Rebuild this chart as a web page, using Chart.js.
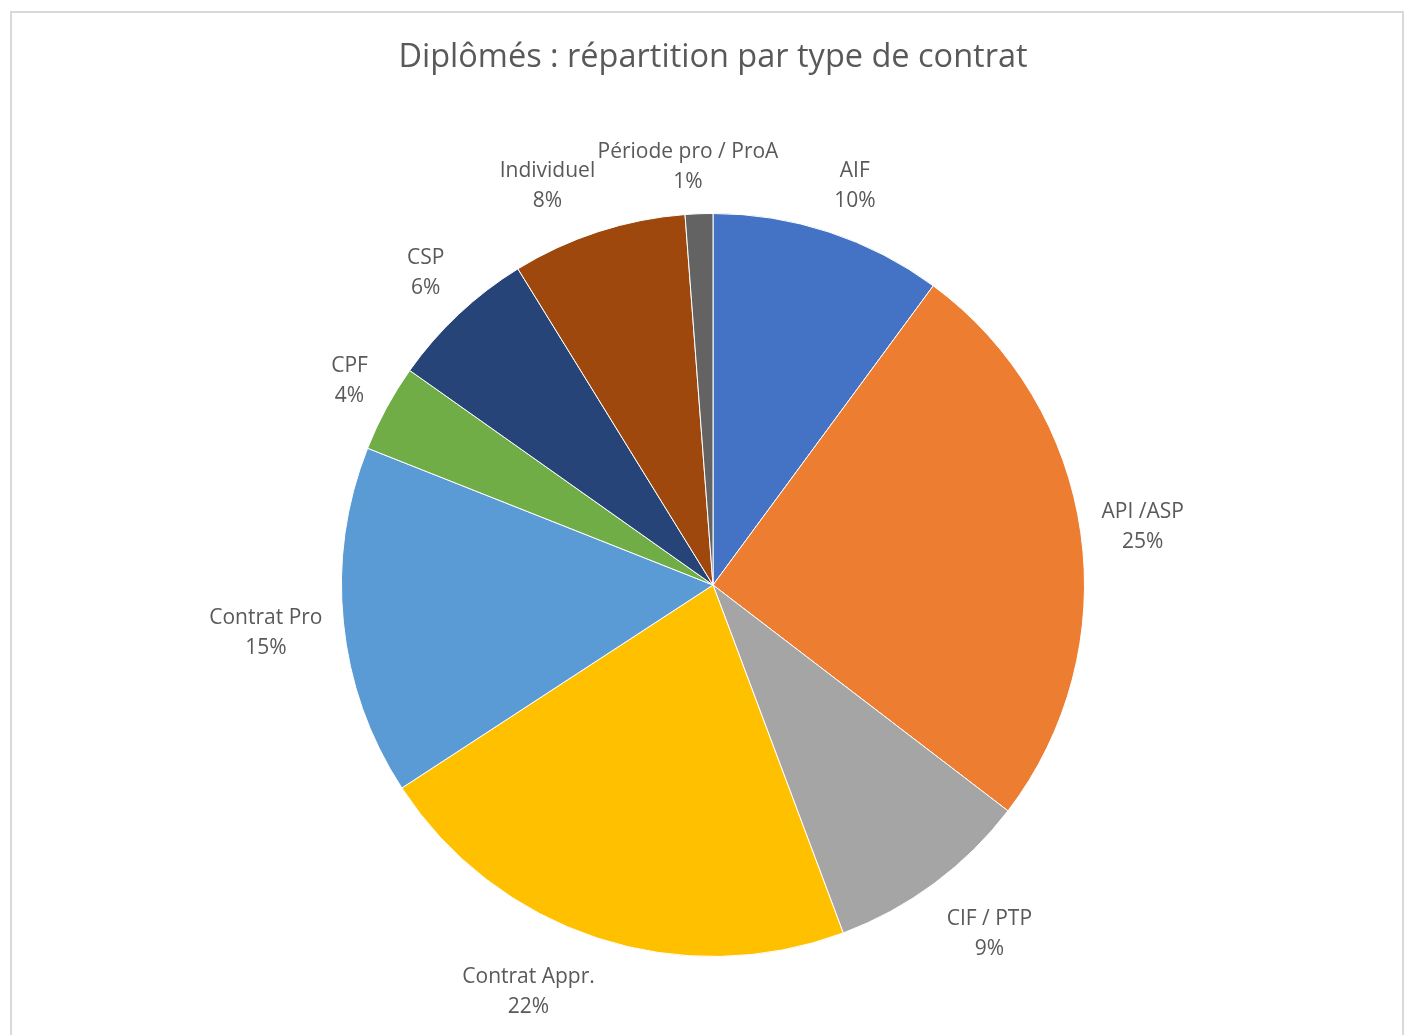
<!DOCTYPE html>
<html lang="fr">
<head>
    <meta charset="UTF-8">
    <title>Diplômés : répartition par type de contrat</title>
    <script src="https://cdn.jsdelivr.net/npm/chart.js"></script>
    <style>
        html, body {
            margin: 0;
            padding: 0;
            background: #ffffff;
            overflow: hidden;
        }
        .frame {
            position: absolute;
            left: 10px;
            top: 11px;
            width: 1394px;
            height: 1100px;
            border: 2px solid #d9d9d9;
            box-sizing: border-box;
        }
        .wrap {
            position: absolute;
            left: 0;
            top: 0;
            width: 1405px;
            height: 1035px;
        }
    </style>
</head>
<body>

<div class="frame"></div>
<div class="wrap">
    <canvas id="pieChart"></canvas>
</div>

<script>
    // data (shares, in %)
    const categories = ['AIF', 'API /ASP', 'CIF / PTP', 'Contrat Appr.', 'Contrat Pro', 'CPF', 'CSP', 'Individuel', 'Période pro / ProA'];
    const shares = [10.1, 25.3, 8.9, 21.5, 15.2, 3.8, 6.4, 7.6, 1.2];
    const colors = ['#4472C4', '#ED7D31', '#A5A5A5', '#FFC000', '#5B9BD5', '#70AD47', '#264478', '#9E480E', '#636363'];

    const titleText = 'Diplômés : répartition par type de contrat';
    const textColor = '#595959';
    const fontFamily = '"Open Sans", "Noto Sans", sans-serif';

    const clamp = v => Math.max(-1, Math.min(1, v));

    // title + outside labels, roughly like Excel's "best fit"
    const outsideLabels = {
        id: 'outsideLabels',
        afterDraw(chart) {
            const ctx = chart.ctx;
            const meta = chart.getDatasetMeta(0);
            const total = shares.reduce((a, b) => a + b, 0);

            ctx.save();
            ctx.fillStyle = textColor;
            ctx.textAlign = 'center';
            ctx.textBaseline = 'middle';

            ctx.font = '32.5px ' + fontFamily;
            ctx.fillText(titleText, 713, 58);

            ctx.font = '21px ' + fontFamily;
            const lineH = 30;
            meta.data.forEach((arc, i) => {
                const p = arc.getProps(['x', 'y', 'startAngle', 'endAngle', 'outerRadius'], true);
                const a = (p.startAngle + p.endAngle) / 2;
                const lines = [categories[i], Math.round(shares[i] / total * 100) + '%'];
                const w = Math.max(...lines.map(t => ctx.measureText(t).width));
                const h = lines.length * lineH;
                const r = p.outerRadius + 21;
                // push the box out so its side nearest the pie sits just outside the edge
                const cx = p.x + Math.cos(a) * r + clamp(3 * Math.cos(a)) * w / 2;
                const cy = p.y + Math.sin(a) * r + clamp(1.5 * Math.sin(a)) * h / 2 + 4;
                lines.forEach((t, k) => {
                    ctx.fillText(t, cx, cy - h / 2 + lineH / 2 + k * lineH);
                });
            });
            ctx.restore();
        }
    };

    const ctx1 = document.getElementById('pieChart').getContext('2d');
    const pieChart = new Chart(ctx1, {
        type: 'pie',
        data: {
            labels: categories,
            datasets: [{
                data: shares,
                backgroundColor: colors,
                borderColor: '#ffffff',
                borderWidth: 1
            }]
        },
        options: {
            responsive: true,
            maintainAspectRatio: false,
            animation: false,
            layout: {
                padding: { top: 213, bottom: 78, left: 21, right: 0 }
            },
            plugins: {
                legend: { display: false },
                tooltip: { enabled: false },
                title: { display: false }
            }
        },
        plugins: [outsideLabels]
    });
</script>

</body>
</html>
